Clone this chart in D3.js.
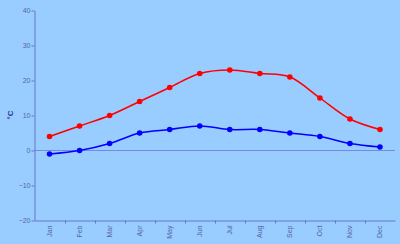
<!DOCTYPE html>
<html><head><meta charset="utf-8">
<script src="https://cdn.jsdelivr.net/npm/d3@7"></script>
<style>html,body{margin:0;padding:0;background:#99ccff;}svg{display:block;}</style>
</head><body>
<svg id="c" width="400" height="244"></svg>
<script>
const months = ["Jan","Feb","Mar","Apr","May","Jun","Jul","Aug","Sep","Oct","Nov","Dec"];
const highs = [4,7,10,14,18,22,23,22,21,15,9,6];
const lows = [-1,0,2,5,6,7,6,6,5,4,2,1];
const yTicks = [-20,-10,0,10,20,30,40];

const svg = d3.select("#c");
svg.append("rect").attr("width",400).attr("height",244).attr("fill","#99ccff");
const x = d3.scaleBand().domain(months).range([34.5,395]);
const y = d3.scaleLinear().domain([-20,40]).range([220.5,10.5]);
const axisCol = "#6677cc", textCol = "#5566aa";

// zero line
svg.append("line").attr("x1",34.5).attr("x2",395).attr("y1",y(0)).attr("y2",y(0))
  .attr("stroke","#7788dd").attr("stroke-width",1);

// y axis
const ya = svg.append("g").attr("transform","translate(34.5,0)")
  .call(d3.axisLeft(y).tickValues(yTicks).tickSize(3).tickSizeOuter(0));
ya.select(".domain").attr("stroke",axisCol);
ya.selectAll(".tick line").attr("stroke",axisCol);
ya.selectAll(".tick text").attr("fill",textCol).attr("font-family","Liberation Sans, Arial, sans-serif")
  .attr("font-size",7).attr("x",-4);

// x axis
const xa = svg.append("g").attr("transform","translate(0,220.5)")
  .call(d3.axisBottom(x).tickSize(0).tickSizeOuter(0));
xa.select(".domain").attr("stroke",axisCol);
// tick marks between categories
const bounds = months.map((m,i)=>x(m)+x.bandwidth()).slice(0,11);
xa.selectAll("line.sep").data(bounds).enter().append("line").attr("class","sep")
  .attr("x1",d=>Math.round(d)+0.5).attr("x2",d=>Math.round(d)+0.5).attr("y1",0).attr("y2",3)
  .attr("stroke",axisCol);
xa.selectAll(".tick text").attr("fill",textCol).attr("font-family","Liberation Sans, Arial, sans-serif")
  .attr("font-size",7).attr("text-anchor","end").attr("dy","0.35em")
  .attr("transform","translate(0,5) rotate(-90)").attr("x",0).attr("y",0);

// y label
svg.append("text").attr("transform","translate(13,115) rotate(-90)")
  .attr("text-anchor","middle").attr("font-family","Liberation Sans, Arial, sans-serif")
  .attr("font-size",8).attr("font-weight","bold").attr("fill","#333399").text("°C");

const cx = m => x(m)+x.bandwidth()/2;
const line = d3.line().x((d,i)=>cx(months[i])).y(d=>y(d)).curve(d3.curveCatmullRom.alpha(0.5));

[[highs,"#ff0000"],[lows,"#0000ff"]].forEach(([data,col])=>{
  svg.append("path").datum(data).attr("d",line).attr("fill","none").attr("stroke",col).attr("stroke-width",1.5);
  svg.selectAll(null).data(data).enter().append("circle")
    .attr("cx",(d,i)=>cx(months[i])).attr("cy",d=>y(d)).attr("r",2.8).attr("fill",col);
});
</script>
</body></html>
